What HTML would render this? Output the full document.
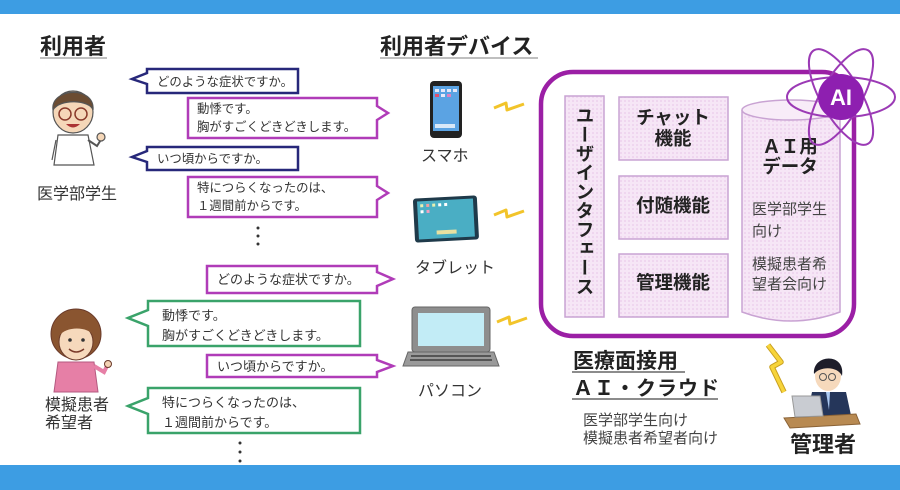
<!DOCTYPE html>
<html><head><meta charset="utf-8">
<style>
html,body{margin:0;padding:0;background:#fff;}
#wrap{position:relative;width:900px;height:490px;overflow:hidden;background:#fff;font-family:"Liberation Sans","Noto Sans CJK JP",sans-serif;}
svg{position:absolute;left:0;top:0;}
svg text{font-family:"Liberation Sans","Noto Sans CJK JP",sans-serif;}
.vert{position:absolute;left:574px;top:106px;writing-mode:vertical-rl;font-size:18.5px;font-weight:bold;color:#222;letter-spacing:0.5px;font-family:"Noto Sans CJK JP",sans-serif;line-height:22px;}
</style></head><body><div id="wrap">
<svg width="900" height="490" viewBox="0 0 900 490" xmlns="http://www.w3.org/2000/svg">
<defs>
<pattern id="dots" width="4" height="4" patternUnits="userSpaceOnUse">
<rect width="4" height="4" fill="#f6e6f6"/><rect width="2" height="2" fill="#efd6ef"/>
</pattern>
</defs>
<!-- bars -->
<rect x="0" y="0" width="900" height="14" fill="#3d9de3"/>
<rect x="0" y="465" width="900" height="25" fill="#3d9de3"/>

<!-- headings -->
<text x="40" y="54" font-size="22" font-weight="bold" fill="#222">利用者</text>
<line x1="40" y1="58" x2="107" y2="58" stroke="#aaa" stroke-width="1.5"/>
<text x="380" y="54" font-size="22" font-weight="bold" fill="#222">利用者デバイス</text>
<line x1="380" y1="58" x2="538" y2="58" stroke="#aaa" stroke-width="1.5"/>

<!-- group1 bubbles -->
<g fill="#fff" stroke-width="2.5" stroke-linejoin="miter">
<path d="M147,69 H298 V93 H147 V84 L132,79 L147,73 Z" stroke="#27287a"/>
<path d="M188,98 H377 V106 L388,113 L377,120 V138 H188 Z" stroke="#b03cb8"/>
<path d="M147,147 H298 V170 H147 V162 L132,157 L147,151 Z" stroke="#27287a"/>
<path d="M188,177 H377 V186 L388,193 L377,200 V217 H188 Z" stroke="#b03cb8"/>
<!-- group2 -->
<path d="M207,266 H377 V272 L393,279 L377,286 V293 H207 Z" stroke="#b03cb8"/>
<path d="M148,301 H360 V346 H148 V326 L128,318 L148,310 Z" stroke="#3aa36a"/>
<path d="M207,355 H377 V360 L393,366 L377,372 V377 H207 Z" stroke="#b03cb8"/>
<path d="M148,388 H360 V433 H148 V414 L128,406 L148,398 Z" stroke="#3aa36a"/>
</g>
<g font-size="12.4" fill="#333">
<text x="157" y="86">どのような症状ですか。</text>
<text x="197" y="113">動悸です。</text>
<text x="197" y="131">胸がすごくどきどきします。</text>
<text x="157" y="163">いつ頃からですか。</text>
<text x="197" y="192">特につらくなったのは、</text>
<text x="197" y="210">１週間前からです。</text>
</g>
<g font-size="13" fill="#333">
<text x="217" y="284">どのような症状ですか。</text>
<text x="162" y="320">動悸です。</text>
<text x="162" y="340">胸がすごくどきどきします。</text>
<text x="217" y="371">いつ頃からですか。</text>
<text x="162" y="407">特につらくなったのは、</text>
<text x="162" y="427">１週間前からです。</text>
</g>
<g fill="#333">
<circle cx="258" cy="228" r="1.5"/><circle cx="258" cy="236" r="1.5"/><circle cx="258" cy="244" r="1.5"/>
<circle cx="240" cy="443" r="1.5"/><circle cx="240" cy="452" r="1.5"/><circle cx="240" cy="461" r="1.5"/>
</g>

<!-- doctor student -->
<g stroke="#555" stroke-width="1.2">
<path d="M58,135 L88,135 L94,165 L54,165 Z" fill="#fff"/>
<path d="M88,140 L97,146 L102,138" fill="none" stroke-width="2"/>
<circle cx="101" cy="137" r="4" fill="#f5d7b8"/>
<path d="M56,140 L52,160" fill="none"/>
<ellipse cx="73" cy="112" rx="20" ry="21" fill="#f5d7b8"/>
<path d="M53,110 C50,88 95,85 93,110 C90,100 60,98 53,110 Z" fill="#6b4c32"/>
<circle cx="65" cy="114" r="6" fill="none" stroke="#8a3a2a" stroke-width="1.5"/>
<circle cx="81" cy="114" r="6" fill="none" stroke="#8a3a2a" stroke-width="1.5"/>
<path d="M66,124 Q73,131 80,124 Z" fill="#a33" stroke="none"/>
</g>
<text x="37" y="199" font-size="16" fill="#333">医学部学生</text>

<!-- female -->
<g stroke="#6a3a2a" stroke-width="1">
<circle cx="76" cy="334" r="25" fill="#8a5530"/>
<path d="M58,362 L94,362 L98,392 L54,392 Z" fill="#e67fa6" stroke="#b45a80"/>
<path d="M94,366 L104,372 L108,364" fill="none" stroke="#e67fa6" stroke-width="4"/>
<circle cx="108" cy="364" r="3.5" fill="#f3d2b4"/>
<ellipse cx="76" cy="342" rx="17" ry="18" fill="#f6d9bc"/>
<path d="M59,336 C62,320 90,318 94,336 C88,326 66,326 59,336 Z" fill="#8a5530" stroke="none"/>
<circle cx="70" cy="340" r="1.8" fill="#333" stroke="none"/>
<circle cx="83" cy="340" r="1.8" fill="#333" stroke="none"/>
<path d="M69,349 Q76,355 84,349" fill="none" stroke="#7a3a2a" stroke-width="1.5"/>
</g>
<text x="45" y="410" font-size="16" fill="#333">模擬患者</text>
<text x="45" y="428" font-size="16" fill="#333">希望者</text>

<!-- phone -->
<rect x="430" y="81" width="32" height="57" rx="4" fill="#222"/>
<rect x="433" y="86" width="26" height="45" fill="#5ba3e3"/>
<g fill="#e8e8f8"><rect x="435" y="89" width="4" height="3"/><rect x="441" y="89" width="4" height="3"/><rect x="447" y="89" width="4" height="3"/><rect x="453" y="89" width="4" height="3"/>
<rect x="435" y="94" width="4" height="3" fill="#e05070"/><rect x="441" y="94" width="4" height="3"/><rect x="447" y="94" width="4" height="3" fill="#e080c0"/>
<rect x="435" y="124" width="20" height="4" fill="#d8e8f8"/></g>

<!-- tablet -->
<g transform="rotate(-3 446 220)">
<rect x="414" y="197" width="64" height="44" rx="3" fill="#1f3a4a"/>
<rect x="418" y="200" width="56" height="38" fill="#4aaec4"/>
<g fill="#e8f0b0"><rect x="421" y="203" width="3" height="3"/><rect x="427" y="203" width="3" height="3" fill="#f0a0a0"/><rect x="433" y="203" width="3" height="3"/><rect x="439" y="203" width="3" height="3" fill="#fff"/><rect x="445" y="203" width="3" height="3" fill="#fff"/>
<rect x="421" y="209" width="3" height="3" fill="#fff"/><rect x="427" y="209" width="3" height="3" fill="#f0a0c0"/>
<rect x="436" y="230" width="20" height="4" fill="#e8e0a0"/></g>
</g>
<g font-size="16" fill="#333">
<text x="421" y="161">スマホ</text>
<text x="415" y="273">タブレット</text>
<text x="418" y="396">パソコン</text>
</g>

<!-- laptop -->
<rect x="412" y="307" width="78" height="45" rx="3" fill="#8e8e8e" stroke="#666"/>
<rect x="418" y="313" width="66" height="33" fill="#c2ecf6"/>
<path d="M408,352 L494,352 L499,366 L403,366 Z" fill="#9a9a9a" stroke="#666"/>
<g fill="#555"><rect x="411" y="355" width="80" height="2"/><rect x="410" y="359" width="82" height="2"/></g>

<!-- small lightnings -->
<g fill="none" stroke="#f2c42a" stroke-width="3" stroke-linejoin="round">
<polyline points="494,108 506,103 507,110 524,104"/>
<polyline points="494,215 506,210 507,217 524,211"/>
<polyline points="497,322 509,317 510,324 527,318"/>
</g>
<polyline points="768,345 781,362 772,367 784,392" fill="none" stroke="#c9a020" stroke-width="5.5" stroke-linejoin="round"/>
<polyline points="768,345 781,362 772,367 784,392" fill="none" stroke="#f7d43a" stroke-width="3.5" stroke-linejoin="round"/>

<!-- big box -->
<rect x="541" y="72" width="313" height="264" rx="32" fill="#fff" stroke="#9b1fa5" stroke-width="4.5"/>
<rect x="565" y="96" width="39" height="221" fill="url(#dots)" stroke="#c9a3d3" stroke-width="1.5"/>
<rect x="619" y="97" width="109" height="63" fill="url(#dots)" stroke="#c9a3d3" stroke-width="1.5"/>
<rect x="619" y="176" width="109" height="63" fill="url(#dots)" stroke="#c9a3d3" stroke-width="1.5"/>
<rect x="619" y="254" width="109" height="63" fill="url(#dots)" stroke="#c9a3d3" stroke-width="1.5"/>
<!-- cylinder -->
<path d="M742,110 V312 Q791,330 840,312 V110" fill="url(#dots)" stroke="#c9a3d3" stroke-width="1.5"/>
<ellipse cx="791" cy="110" rx="49" ry="10" fill="#f8ecf8" stroke="#c9a3d3" stroke-width="1.5"/>
<g font-size="18.5" font-weight="bold" fill="#222" text-anchor="middle">
<text x="673" y="124">チャット</text>
<text x="673" y="145">機能</text>
<text x="673" y="212">付随機能</text>
<text x="673" y="289">管理機能</text>
<text x="790" y="153">ＡＩ用</text>
<text x="790" y="173">データ</text>
</g>
<g font-size="15" fill="#444">
<text x="752" y="214">医学部学生</text>
<text x="752" y="236">向け</text>
<text x="752" y="269">模擬患者希</text>
<text x="752" y="289">望者会向け</text>
</g>

<!-- AI atom -->
<g fill="none" stroke="#9b3ab5" stroke-width="2">
<ellipse cx="841" cy="97" rx="54" ry="20"/>
<ellipse cx="841" cy="97" rx="54" ry="20" transform="rotate(60 841 97)"/>
<ellipse cx="841" cy="97" rx="54" ry="20" transform="rotate(120 841 97)"/>
</g>
<circle cx="841" cy="97" r="23" fill="#8e1fb0"/>
<text x="841" y="105" font-size="22" font-weight="bold" fill="#fff" text-anchor="middle">AI</text>

<!-- cloud label -->
<text x="573" y="368" font-size="21" font-weight="bold" fill="#222">医療面接用</text>
<line x1="572" y1="372" x2="685" y2="372" stroke="#666" stroke-width="1.5"/>
<text x="573" y="395" font-size="20" font-weight="bold" fill="#222" letter-spacing="1">ＡＩ・クラウド</text>
<line x1="572" y1="399" x2="718" y2="399" stroke="#666" stroke-width="1.5"/>
<text x="583" y="425" font-size="15" fill="#444">医学部学生向け</text>
<text x="583" y="443" font-size="15" fill="#444">模擬患者希望者向け</text>

<!-- admin -->
<g>
<path d="M812,392 L846,392 L852,420 L806,420 Z" fill="#25365a"/>
<path d="M826,392 L830,392 L829,410 Z" fill="#aac8f0"/>
<ellipse cx="828" cy="376" rx="13" ry="15" fill="#f6d9bc"/>
<path d="M814,374 C812,354 846,352 842,376 C838,366 820,366 814,374 Z" fill="#1d1d2a"/>
<circle cx="823" cy="377" r="3.5" fill="none" stroke="#555" stroke-width="1"/>
<circle cx="832" cy="377" r="3.5" fill="none" stroke="#555" stroke-width="1"/>
<path d="M784,418 L856,414 L860,424 L790,428 Z" fill="#b88a52" stroke="#8a6236"/>
<path d="M792,396 L820,396 L823,416 L795,417 Z" fill="#c9ccd2" stroke="#999"/>
</g>
<text x="790" y="452" font-size="22" font-weight="bold" fill="#222">管理者</text>
</svg>
<div class="vert">ユーザインタフェース</div>
</div></body></html>
